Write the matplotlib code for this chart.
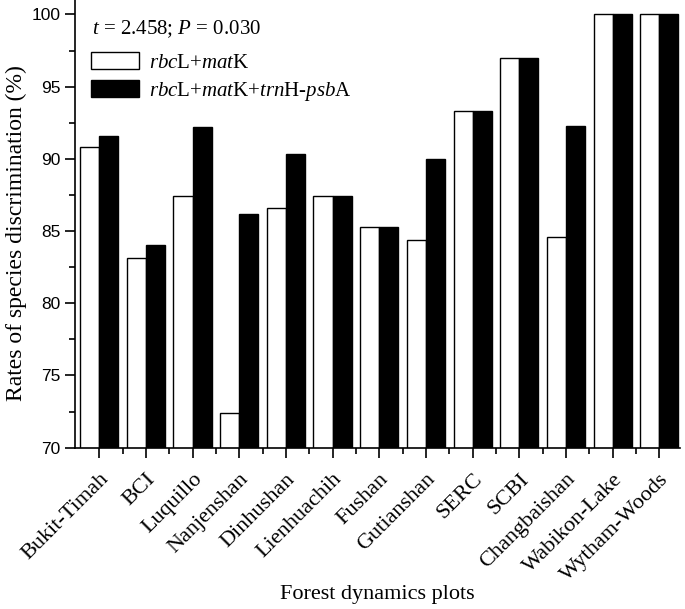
import matplotlib
matplotlib.use('Agg')
import matplotlib.pyplot as plt
import numpy as np

plots = ['Bukit-Timah', 'BCI', 'Luquillo', 'Nanjenshan', 'Dinhushan', 'Lienhuachih',
         'Fushan', 'Gutianshan', 'SERC', 'SCBI', 'Changbaishan', 'Wabikon-Lake', 'Wytham-Woods']
rbcl_matk = [90.8, 83.1, 87.4, 72.4, 86.6, 87.4, 85.3, 84.4, 93.3, 97.0, 84.6, 100.0, 100.0]
rbcl_matk_trnh = [91.6, 84.0, 92.2, 86.2, 90.3, 87.4, 85.3, 90.0, 93.3, 97.0, 92.3, 100.0, 100.0]

plt.rcParams['mathtext.fontset'] = 'custom'
plt.rcParams['mathtext.rm'] = 'Liberation Serif'
plt.rcParams['mathtext.it'] = 'Liberation Serif:italic'
serif = 'Liberation Serif'
sans = 'Liberation Sans'

fig = plt.figure(figsize=(6.85, 6.09), dpi=100)
ax = fig.add_axes([0.1095, 0.265, 0.883, 0.735])

x = np.arange(len(plots))
w = 0.41
ax.bar(x - w/2, rbcl_matk, w, color='white', edgecolor='black', linewidth=1.0,
       label=r'$rbc$L+$mat$K')
ax.bar(x + w/2, rbcl_matk_trnh, w, color='black', edgecolor='black', linewidth=1.0,
       label=r'$rbc$L+$mat$K+$trn$H-$psb$A')

ax.set_ylim(70, 101)
ax.set_xlim(-0.52, 12.44)
ax.set_yticks([70, 75, 80, 85, 90, 95, 100])
ax.set_yticks(np.arange(72.5, 100, 5), minor=True)
ax.set_xticks(x)
ax.set_xticks(x[:-1] + 0.5, minor=True)
ax.set_xticklabels(plots, rotation=45, ha='right', rotation_mode='anchor',
                   fontfamily=serif, fontsize=16)
for lab in ax.get_yticklabels():
    lab.set_fontfamily(sans)
    lab.set_fontsize(12.5)
ax.tick_params(axis='both', which='major', direction='out', length=7, width=1.2)
ax.tick_params(axis='both', which='minor', direction='out', length=4, width=1.2)
ax.tick_params(axis='x', which='major', pad=9)

ax.spines['top'].set_visible(False)
ax.spines['right'].set_visible(False)
ax.spines['left'].set_linewidth(1.2)
ax.spines['bottom'].set_linewidth(1.2)

ax.set_ylabel('Rates of species discrimination (%)', fontfamily=serif, fontsize=17)
ax.yaxis.set_label_coords(-0.079, 0.48)
ax.set_xlabel('Forest dynamics plots', fontfamily=serif, fontsize=16, labelpad=0)

ax.text(0.028, 0.935, r'$t$ = 2.458; $P$ = 0.030', transform=ax.transAxes,
        fontfamily=serif, fontsize=15, va='center', ha='left')
ax.legend(loc='upper left', bbox_to_anchor=(0.002, 0.917), frameon=False,
          prop={'family': serif, 'size': 15}, handlelength=2.3, handleheight=0.9,
          labelspacing=0.35, handletextpad=0.5, borderpad=0.2)

fig.savefig('out.png', dpi=100)
